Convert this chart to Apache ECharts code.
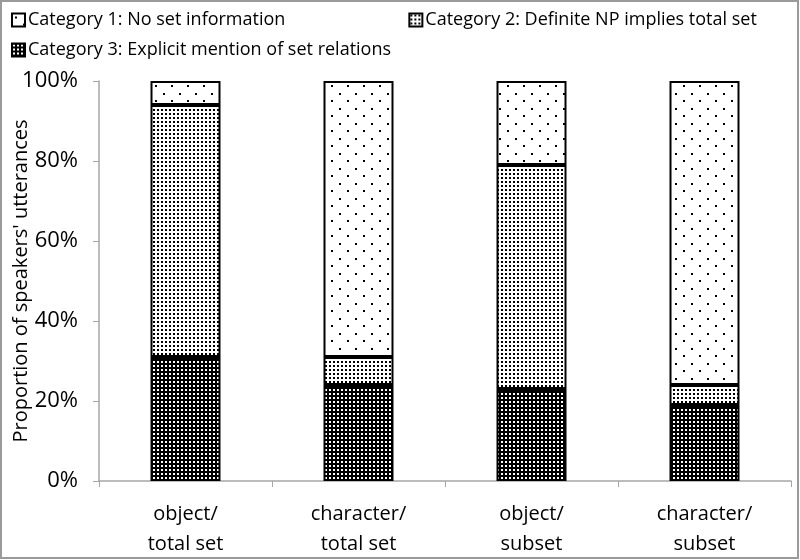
<!DOCTYPE html>
<html>
<head>
<meta charset="utf-8">
<script src="https://cdn.jsdelivr.net/npm/echarts@6/dist/echarts.min.js"></script>
<style>
html,body{margin:0;padding:0;background:#fff;}
#chart{width:800px;height:560px;}
</style>
</head>
<body>
<div id="chart"></div>
<script>
var categories = ['object/\ntotal set', 'character/\ntotal set', 'object/\nsubset', 'character/\nsubset'];
var seriesNames = ['Category 1: No set information', 'Category 2: Definite NP implies total set', 'Category 3: Explicit mention of set relations'];
var cat3 = [31, 24, 23, 19];
var cat2 = [63, 7, 56, 5];
var cat1 = [6, 69, 21, 76];
var yTicks = ['0%', '20%', '40%', '60%', '80%', '100%'];

// fill patterns
function makePattern(w, h, bg, fg, dots, size) {
    var c = document.createElement('canvas');
    c.width = w; c.height = h;
    var ctx = c.getContext('2d');
    ctx.fillStyle = bg;
    ctx.fillRect(0, 0, w, h);
    ctx.fillStyle = fg;
    for (var i = 0; i < dots.length; i++) {
        ctx.fillRect(dots[i][0], dots[i][1], size, size);
    }
    return {image: c, repeat: 'repeat'};
}
var pat1 = makePattern(16, 15, '#fff', '#000', [[3, 3], [11, 10]], 2);
var pat2 = makePattern(4, 4, '#fff', '#000', [[1, 1]], 2);
var pat3 = makePattern(4, 4, '#000', '#fff', [[1, 1]], 2);

var font = '"Open Sans", "Noto Sans", sans-serif';

var chart = echarts.init(document.getElementById('chart'));
var option = {
    backgroundColor: '#fff',
    animation: false,
    textStyle: {fontFamily: font},
    graphic: [{
        type: 'rect',
        shape: {x: 1, y: 1, width: 797, height: 557},
        style: {fill: 'none', stroke: '#9a9a9a', lineWidth: 2},
        silent: true
    }],
    legend: [{
        data: [seriesNames[0], seriesNames[1]],
        left: 6, top: 6,
        itemWidth: 13, itemHeight: 13, itemGap: 123,
        icon: 'rect',
        textStyle: {fontSize: 18, color: '#000', fontFamily: font, padding: [0, 0, 0, -2]}
    }, {
        data: [seriesNames[2]],
        left: 6, top: 36,
        itemWidth: 13, itemHeight: 13,
        icon: 'rect',
        textStyle: {fontSize: 18, color: '#000', fontFamily: font, padding: [0, 0, 0, -2]}
    }],
    grid: {left: 99, right: 9, top: 81, bottom: 79, containLabel: false, outerBoundsMode: 'none'},
    xAxis: {
        type: 'category',
        data: categories,
        axisLine: {lineStyle: {color: '#a6a6a6', width: 1.5}},
        axisTick: {show: true, length: 6, lineStyle: {color: '#a6a6a6'}},
        axisLabel: {fontSize: 20, color: '#000', lineHeight: 30, margin: 18, fontFamily: font}
    },
    yAxis: {
        type: 'value',
        min: 0, max: 100, interval: 20,
        name: "Proportion of speakers' utterances",
        nameLocation: 'middle',
        nameGap: 68,
        nameMoveOverlap: false,
        nameTextStyle: {fontSize: 20, color: '#000', fontFamily: font},
        axisLine: {show: true, lineStyle: {color: '#a6a6a6', width: 1.5}},
        axisTick: {show: true, length: 6, lineStyle: {color: '#a6a6a6'}},
        splitLine: {show: false},
        axisLabel: {
            fontSize: 22, color: '#000', margin: 21, fontFamily: font,
            formatter: function (v) { return yTicks[v / 20]; }
        }
    },
    series: [{
        name: seriesNames[2], type: 'bar', stack: 'all', barWidth: 70,
        data: cat3,
        itemStyle: {color: pat3, borderColor: '#000', borderWidth: 2}
    }, {
        name: seriesNames[1], type: 'bar', stack: 'all', barWidth: 70,
        data: cat2,
        itemStyle: {color: pat2, borderColor: '#000', borderWidth: 2}
    }, {
        name: seriesNames[0], type: 'bar', stack: 'all', barWidth: 70,
        data: cat1,
        itemStyle: {color: pat1, borderColor: '#000', borderWidth: 2}
    }]
};
chart.setOption(option);
</script>
</body>
</html>
